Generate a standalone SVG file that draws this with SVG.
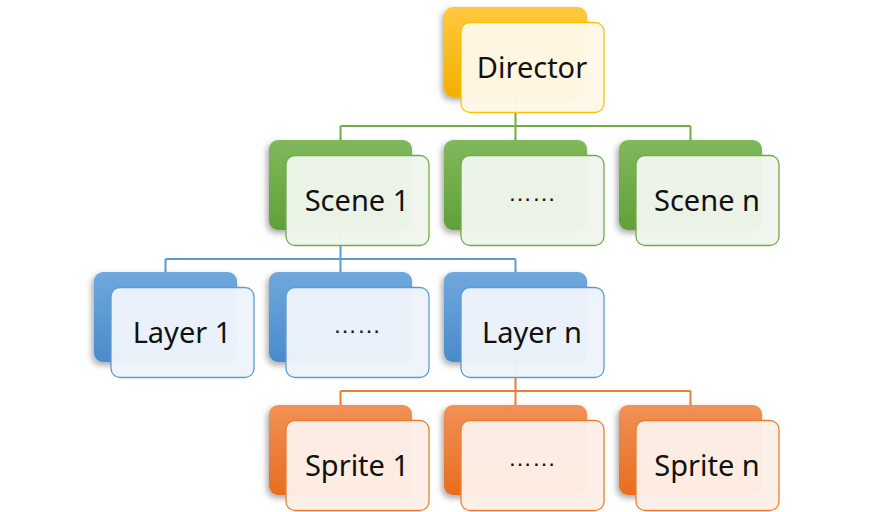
<svg xmlns="http://www.w3.org/2000/svg" width="873" height="512" viewBox="0 0 873 512">
<defs>
<linearGradient id="gGold" x1="0" y1="0" x2="0" y2="1"><stop offset="0" stop-color="#FFC83E"/><stop offset="1" stop-color="#F2B000"/></linearGradient>
<linearGradient id="gGreen" x1="0" y1="0" x2="0" y2="1"><stop offset="0" stop-color="#80B95C"/><stop offset="1" stop-color="#60A038"/></linearGradient>
<linearGradient id="gBlue" x1="0" y1="0" x2="0" y2="1"><stop offset="0" stop-color="#70A8DD"/><stop offset="1" stop-color="#4A8BCB"/></linearGradient>
<linearGradient id="gOrange" x1="0" y1="0" x2="0" y2="1"><stop offset="0" stop-color="#F29157"/><stop offset="1" stop-color="#E86D1E"/></linearGradient>
<filter id="sh" x="-20%" y="-20%" width="140%" height="150%"><feDropShadow dx="-2" dy="3" stdDeviation="3" flood-color="#000" flood-opacity="0.35"/></filter>
</defs>
<style>
.back{filter:url(#sh)}
.front{stroke-width:1.3;fill-opacity:0.97}
.gold .back{fill:url(#gGold)} .gold .front{fill:#FFF8E8;stroke:#FFC000}
.green .back{fill:url(#gGreen)} .green .front{fill:#F0F6EC;stroke:#70AD47}
.blue .back{fill:url(#gBlue)} .blue .front{fill:#EEF4FB;stroke:#5B9BD5}
.orange .back{fill:url(#gOrange)} .orange .front{fill:#FDF0E8;stroke:#ED7D31}
.t{font-family:"Noto Sans",sans-serif;font-size:29px;fill:#111;text-anchor:middle}
.d{font-family:"Liberation Sans",sans-serif;font-size:24px;fill:#111;text-anchor:middle}
.c{fill:none;stroke-width:2}
</style>
<g id="connectors">
<path class="c" stroke="#70AD47" d="M515.5 97V126M340.5 126H690.5M340.5 126V140M515.5 126V140M690.5 126V140"/>
<path class="c" stroke="#5B9BD5" d="M340.5 230V259M165.5 259H515.5M165.5 259V272M340.5 259V272M515.5 259V272"/>
<path class="c" stroke="#ED7D31" d="M515.5 362V391M340.5 391H690.5M340.5 391V405M515.5 391V405M690.5 391V405"/>
</g>
<g id="director" class="gold">
<rect class="back" x="444" y="7" width="143" height="90" rx="9"/>
<rect class="front" x="461" y="22.5" width="143" height="90" rx="9"/>
<text class="t" x="532" y="78">Director</text>
</g>
<g id="scene1" class="green">
<rect class="back" x="269" y="140" width="143" height="90" rx="9"/>
<rect class="front" x="286" y="155.5" width="143" height="90" rx="9"/>
<text class="t" x="357" y="211">Scene 1</text>
</g>
<g id="sceneDots" class="green">
<rect class="back" x="444" y="140" width="143" height="90" rx="9"/>
<rect class="front" x="461" y="155.5" width="143" height="90" rx="9"/>
<text class="d" x="532" y="201">……</text>
</g>
<g id="sceneN" class="green">
<rect class="back" x="619" y="140" width="143" height="90" rx="9"/>
<rect class="front" x="636" y="155.5" width="143" height="90" rx="9"/>
<text class="t" x="707" y="211">Scene n</text>
</g>
<g id="layer1" class="blue">
<rect class="back" x="94" y="272" width="143" height="90" rx="9"/>
<rect class="front" x="111" y="287.5" width="143" height="90" rx="9"/>
<text class="t" x="182" y="343">Layer 1</text>
</g>
<g id="layerDots" class="blue">
<rect class="back" x="269" y="272" width="143" height="90" rx="9"/>
<rect class="front" x="286" y="287.5" width="143" height="90" rx="9"/>
<text class="d" x="357" y="333">……</text>
</g>
<g id="layerN" class="blue">
<rect class="back" x="444" y="272" width="143" height="90" rx="9"/>
<rect class="front" x="461" y="287.5" width="143" height="90" rx="9"/>
<text class="t" x="532" y="343">Layer n</text>
</g>
<g id="sprite1" class="orange">
<rect class="back" x="269" y="405" width="143" height="90" rx="9"/>
<rect class="front" x="286" y="420.5" width="143" height="90" rx="9"/>
<text class="t" x="357" y="476">Sprite 1</text>
</g>
<g id="spriteDots" class="orange">
<rect class="back" x="444" y="405" width="143" height="90" rx="9"/>
<rect class="front" x="461" y="420.5" width="143" height="90" rx="9"/>
<text class="d" x="532" y="466">……</text>
</g>
<g id="spriteN" class="orange">
<rect class="back" x="619" y="405" width="143" height="90" rx="9"/>
<rect class="front" x="636" y="420.5" width="143" height="90" rx="9"/>
<text class="t" x="707" y="476">Sprite n</text>
</g>
</svg>
